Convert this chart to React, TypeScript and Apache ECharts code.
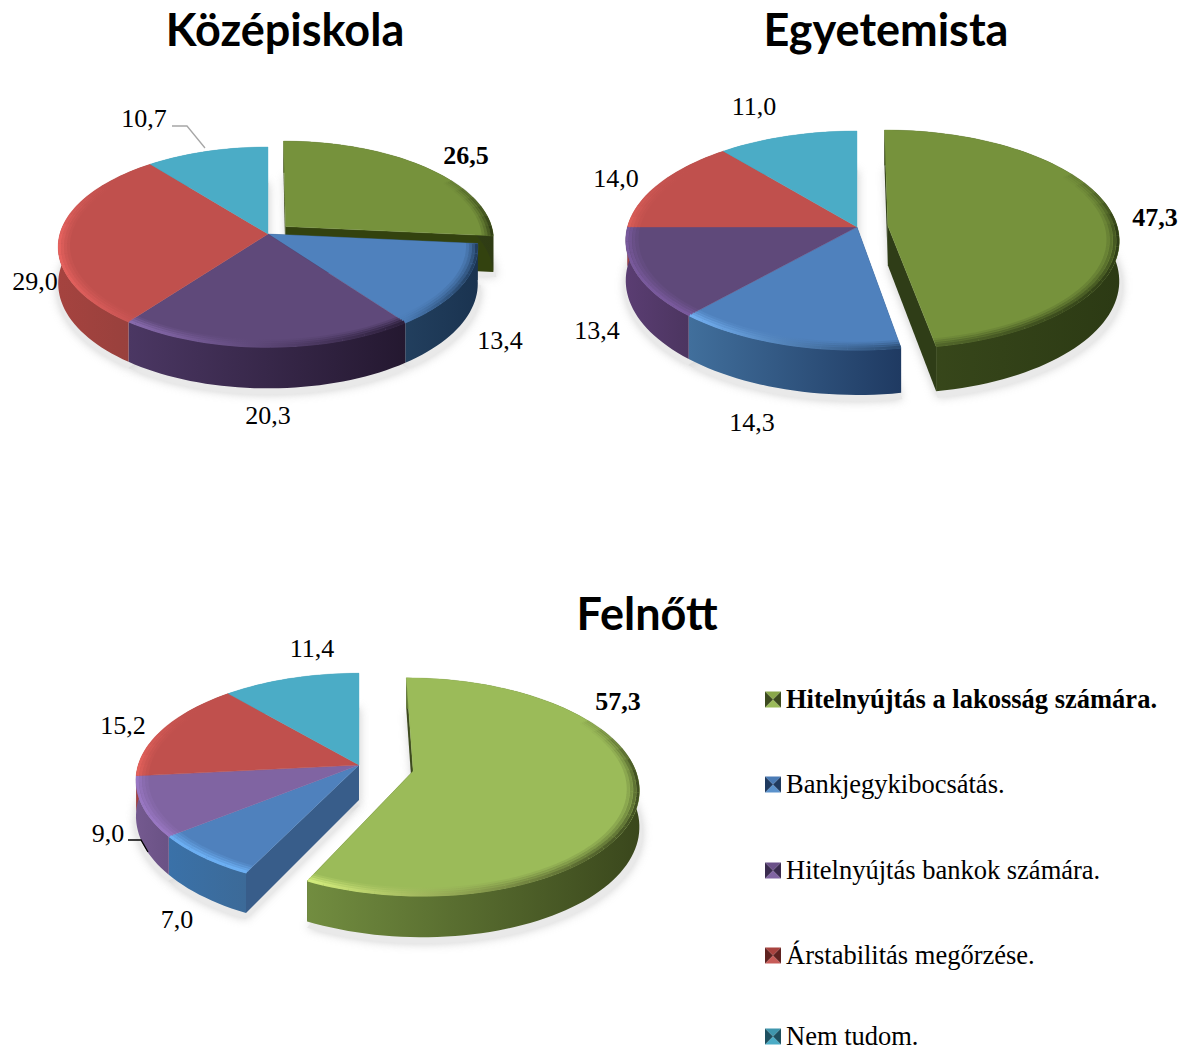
import React, { useEffect, useRef } from "react";
import * as echarts from "echarts";

const categories = [
  "Hitelnyújtás a lakosság számára.",
  "Bankjegykibocsátás.",
  "Hitelnyújtás bankok számára.",
  "Árstabilitás megőrzése.",
  "Nem tudom.",
];
const kozepiskolaValues = [26.5, 13.4, 20.3, 29.0, 10.7];
const egyetemistaValues = [47.3, 14.3, 13.4, 14.0, 11.0];
const felnottValues = [57.3, 7.0, 9.0, 15.2, 11.4];

type Pie = {
  title: string; titleX: number; titleY: number;
  values: number[];
  ax: number; ay: number; A: number; B: number; k: number; H: number; explode: number;
  face: string[]; wall: string[][]; rim: string[][]; cut: string[];
  labels: number[][];
};

const TEAL_WALL = ["#3f93a9", "#3f93a9"];
const TEAL_RIM = ["#4BACC6", "#4BACC6"];

const pies: Pie[] = [
  {
    title: "Középiskola", titleX: 285, titleY: 30, values: kozepiskolaValues,
    ax: 268, ay: 234, A: 208, B: 98.3, k: 0.13, H: 36, explode: 0.115,
    face: ["#76923C", "#4F81BD", "#5F497A", "#C0504D", "#4BACC6"],
    wall: [["#3d4d1a", "#2f3c14"], ["#223f5e", "#1a3350"], ["#4b3763", "#241830"], ["#a5433f", "#95403c"], TEAL_WALL],
    rim: [["#5c7230", "#2f3c14"], ["#4a7bb5", "#1f3a5a"], ["#8a6cb0", "#2a1d38"], ["#e8635f", "#c05050"], TEAL_RIM],
    cut: ["#33420f", "#1a3350", "#241830", "#95403c", "#3f93a9"],
    labels: [[466, 155], [500, 340], [268, 415], [35, 281], [144, 118]],
  },
  {
    title: "Egyetemista", titleX: 886, titleY: 30, values: egyetemistaValues,
    ax: 857, ay: 227, A: 229.5, B: 107.8, k: 0.123, H: 39.5, explode: 0.135,
    face: ["#76923C", "#4F81BD", "#5F497A", "#C0504D", "#4BACC6"],
    wall: [["#3a4a1c", "#2c3a14"], ["#416f9c", "#1f3a62"], ["#5a3d72", "#4c3560"], ["#a5433f", "#95403c"], TEAL_WALL],
    rim: [["#5c7230", "#2c3a14"], ["#74b2f5", "#2a4a70"], ["#7a5a9e", "#7a5a9e"], ["#e0605a", "#c05050"], TEAL_RIM],
    cut: ["#2f3d17", "#1f3a60", "#4c3560", "#95403c", "#3f93a9"],
    labels: [[1155, 217], [752, 422], [597, 330], [616, 178], [754, 106]],
  },
  {
    title: "Felnőtt", titleX: 647, titleY: 614, values: felnottValues,
    ax: 359, ay: 765, A: 220.7, B: 105, k: 0.144, H: 35, explode: 0.25,
    face: ["#9BBB59", "#4F81BD", "#8064A2", "#C0504D", "#4BACC6"],
    wall: [["#728d40", "#3a471c"], ["#3a71a8", "#3c6a98"], ["#74598f", "#6a5285"], ["#a5433f", "#95403c"], TEAL_WALL],
    rim: [["#d7f07f", "#3c4a1e"], ["#6db1f5", "#6db1f5"], ["#9a78c4", "#9a78c4"], ["#e6625c", "#c95550"], TEAL_RIM],
    cut: ["#3d4a1e", "#385d8a", "#6a5285", "#95403c", "#3f93a9"],
    labels: [[618, 701], [177, 919], [108, 833], [123, 725], [312, 648]],
  },
];

const legendY = [699, 784, 870, 955, 1036];
const legendColors = [
  ["#8aa84a", "#3c4a1e", "#9BBB59"],
  ["#4a7bb5", "#1f3a5f", "#5b92cc"],
  ["#6b5189", "#3a2b4f", "#8064A2"],
  ["#a8433f", "#5f2220", "#c75c58"],
  ["#3f96ad", "#1e5060", "#4BACC6"],
];
const SERIF = "'Liberation Serif', 'Times New Roman', serif";

function lerp(a: number, b: number, t: number) { return a + (b - a) * t; }

function gradient(c: string[]) {
  return new echarts.graphic.LinearGradient(0, 0, 1, 0, [
    { offset: 0, color: c[0] },
    { offset: 1, color: c[1] },
  ]);
}

function makeRenderItem(pie: Pie) {
  const total = pie.values.reduce((s, v) => s + v, 0);
  const lastIndex = pie.values.length - 1;
  return (params: any, api: any) => {
    const i = params.dataIndex;
    const value = api.value(0) as number;
    let cum = 0;
    for (let j = 0; j < i; j++) cum += pie.values[j];
    const t0 = (cum / total) * Math.PI * 2;
    const t1 = ((cum + value) / total) * Math.PI * 2;
    const mid = (t0 + t1) / 2;
    const isExp = i === 0;
    const ou = isExp ? Math.sin(mid) * pie.explode : 0;
    const ov = isExp ? -Math.cos(mid) * pie.explode : 0;

    const proj = (theta: number, r: number, depth: number) => {
      const u = ou + r * Math.sin(theta);
      const v = ov - r * Math.cos(theta);
      const w = 1 - pie.k * v;
      return [pie.ax + (pie.A * u) / w, pie.ay + (pie.B * v + depth) / w];
    };
    const steps = Math.max(2, Math.ceil((t1 - t0) / (Math.PI / 90)));
    const arc = (r: number, depth: number) => {
      const pts: number[][] = [];
      for (let s = 0; s <= steps; s++) pts.push(proj(lerp(t0, t1, s / steps), r, depth));
      return pts;
    };

    const zWall = isExp ? 2 : 10;
    const zFace = isExp ? 3 : 20;
    const children: any[] = [];

    // soft ground shadow
    const shadowPts = [proj(t0, 0, pie.H), ...arc(1.01, pie.H)].map((p) => [p[0] + 1, p[1] + 5]);
    children.push({
      type: "polygon", z2: 0, silent: true, shape: { points: shadowPts },
      style: { fill: "#e9e9e9", shadowBlur: 10, shadowColor: "#cfcfcf" },
    });

    // radial cut faces, only where the exploded slice exposes them
    const cuts: number[] = isExp ? [t0, t1] : i === 1 ? [t0] : i === lastIndex ? [t1] : [];
    for (const t of cuts) {
      children.push({
        type: "polygon", z2: zWall, silent: true,
        shape: { points: [proj(t, 0, 0), proj(t, 1, 0), proj(t, 1, pie.H), proj(t, 0, pie.H)] },
        style: { fill: pie.cut[i] },
      });
    }
    // outer wall
    children.push({
      type: "polygon", z2: zWall + 1, silent: true,
      shape: { points: [...arc(1, 0), ...arc(1, pie.H).reverse()] },
      style: { fill: gradient(pie.wall[i]) },
    });
    // top face
    children.push({
      type: "polygon", z2: zFace, silent: true,
      shape: { points: [proj(t0, 0, 0), ...arc(1, 0)] },
      style: { fill: pie.face[i], stroke: pie.face[i], lineWidth: 0.4 },
    });
    // bevel along the near part of the rim, fading out towards the far side
    const rimPts = arc(1, 0);
    const xs = rimPts.map((p) => p[0]);
    const xMin = Math.min(...xs);
    const xMax = Math.max(...xs) + 0.01;
    const rimFill = new echarts.graphic.LinearGradient(xMin, 0, xMax, 0, [
      { offset: 0, color: pie.rim[i][0] },
      { offset: 1, color: pie.rim[i][1] },
    ], true);
    const ringOpacity = [0.95, 0.65, 0.38, 0.18];
    const chunk = 3;
    for (let s = 0; s < steps; s += chunk) {
      const thMid = lerp(t0, t1, (s + chunk / 2) / steps);
      const fade = Math.min(1, Math.max(0, (-Math.cos(thMid) + 0.55) / 0.55));
      if (fade <= 0) continue;
      ringOpacity.forEach((o, j) => {
        const r = 0.994 - j * 0.014;
        const pts: number[][] = [];
        for (let q = s; q <= Math.min(s + chunk, steps); q++) pts.push(proj(lerp(t0, t1, q / steps), r, 0));
        children.push({
          type: "polyline", z2: zFace + 1, silent: true,
          shape: { points: pts },
          style: { fill: null, stroke: rimFill, lineWidth: 3, opacity: o * fade },
        });
      });
    }
    // value label
    children.push({
      type: "text", z2: 100, silent: true,
      x: pie.labels[i][0], y: pie.labels[i][1],
      style: {
        text: value.toFixed(1).replace(".", ","),
        fill: "#000",
        font: `${isExp ? "bold " : ""}26px ${SERIF}`,
        textAlign: "center", textVerticalAlign: "middle",
      },
    });
    return { type: "group", children };
  };
}

export default function App() {
  const ref = useRef<HTMLDivElement>(null);
  useEffect(() => {
    document.body.style.margin = "0";
    const chart = echarts.init(ref.current!, null, { renderer: "svg" });
    const extras: any[] = [];
    categories.forEach((name, i) => {
      const y = legendY[i];
      const x = 765;
      const s = 16;
      const c = legendColors[i];
      const mx = x + s / 2, my = y + 0.5;
      const top = y - s / 2 + 0.5, bot = y + s / 2 + 0.5;
      extras.push(
        { type: "polygon", shape: { points: [[x, top], [x + s, top], [mx, my]] }, style: { fill: c[0] } },
        { type: "polygon", shape: { points: [[x, bot], [x + s, bot], [mx, my]] }, style: { fill: c[2] } },
        { type: "polygon", shape: { points: [[x, top], [mx, my], [x, bot]] }, style: { fill: c[1] } },
        { type: "polygon", shape: { points: [[x + s, top], [mx, my], [x + s, bot]] }, style: { fill: c[1] } },
        {
          type: "text", x: 786, y,
          style: {
            text: name, fill: "#000", font: `${i === 0 ? "bold " : ""}26.5px ${SERIF}`,
            textAlign: "left", textVerticalAlign: "middle",
          },
        },
      );
    });
    const leaders = [
      { pts: [[172, 126], [187, 126], [205, 148]], color: "#a6a6a6" },
      { pts: [[128, 840], [141, 840], [148, 852]], color: "#000" },
    ];
    leaders.forEach((l) =>
      extras.push({
        type: "polyline", z: 100, shape: { points: l.pts },
        style: { fill: null, stroke: l.color, lineWidth: 1.3 },
      }),
    );
    chart.setOption({
      animation: false,
      backgroundColor: "#fff",
      title: pies.map((p) => ({
        text: p.title,
        left: p.titleX - 5,
        top: p.titleY - 29,
        textAlign: "center",
        textStyle: { fontFamily: "Lato", fontWeight: "bold", fontSize: 45, color: "#000" },
      })),
      series: pies.map((p) => ({
        type: "custom",
        name: p.title,
        coordinateSystem: "none",
        silent: true,
        data: p.values.map((v) => [v]),
        renderItem: makeRenderItem(p),
      })),
      graphic: extras,
    });
    return () => chart.dispose();
  }, []);
  return <div ref={ref} style={{ width: 1186, height: 1052 }} />;
}
